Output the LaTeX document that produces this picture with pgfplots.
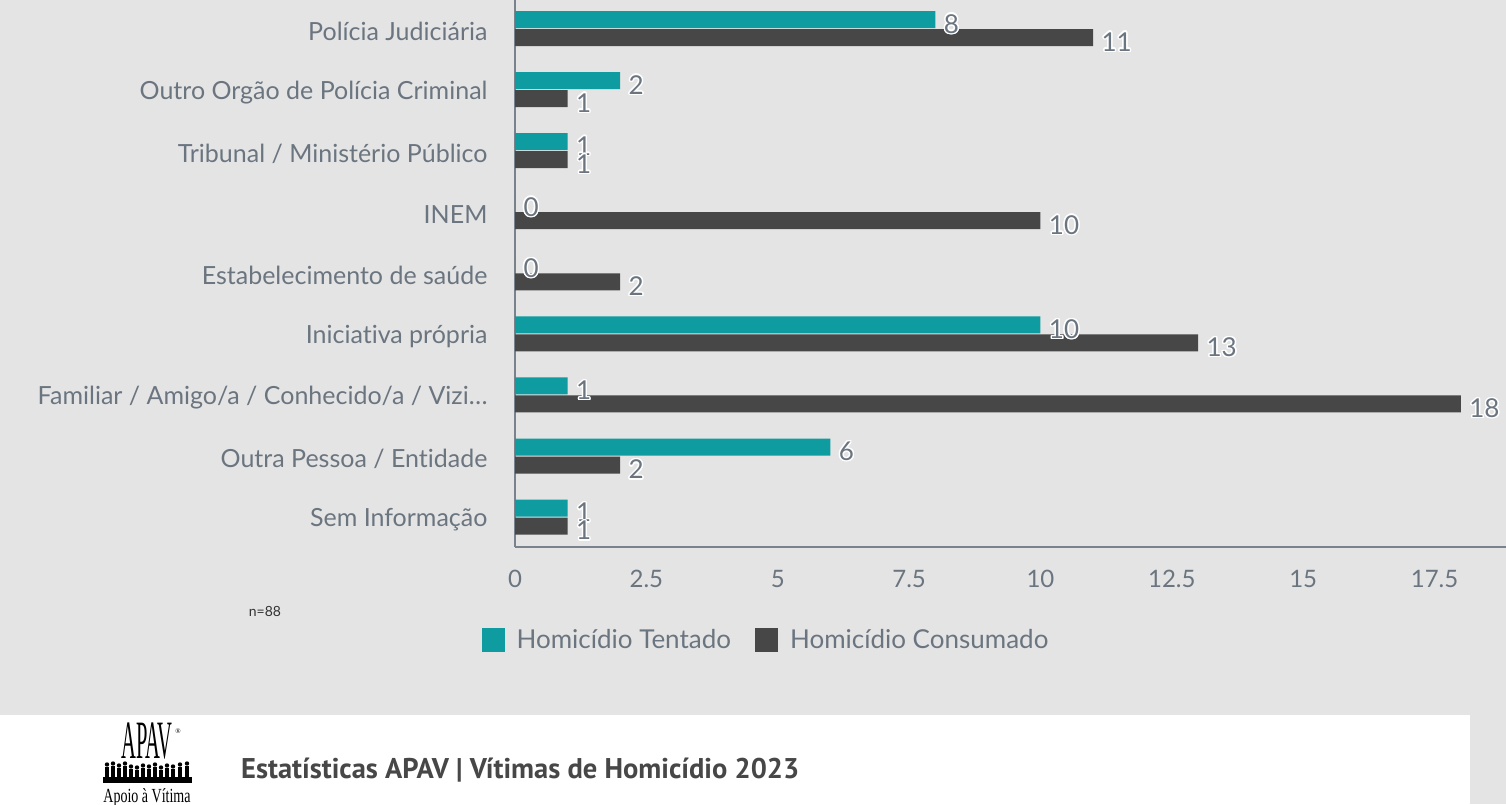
\documentclass[border=0pt]{standalone}
\usepackage{pgfplots}
\pgfplotsset{compat=1.18}
\usepackage{pgfplotstable}
\usepackage{fontspec}
\setmainfont{Lato}[Ligatures=NoCommon]
\newfontfamily\titlefont{PT Sans}
\newfontfamily\logofont{Liberation Serif}
\usepackage[copies]{contour}
\contournumber{16}
\contourlength{1.4pt}
\definecolor{bg}{HTML}{E4E4E4}
\definecolor{tealbar}{HTML}{0E9CA0}
\definecolor{darkbar}{HTML}{474747}
\definecolor{txt}{HTML}{6B7580}
\definecolor{axisc}{HTML}{7A838C}
\pgfplotstableread{
y tent cons
8 8 11
7 2 1
6 1 1
5 0 10
4 0 2
3 10 13
2 1 18
1 6 2
0 1 1
}\datatable
\begin{document}
\begin{tikzpicture}[x=1pt,y=1pt]
\path[use as bounding box] (0,0) rectangle (1506,804);
\fill[bg] (0,0) rectangle (1506,804);
\fill[white] (0,0) rectangle (1470,89);
\begin{axis}[
  at={(515pt,257pt)}, anchor=south west,
  scale only axis, width=991pt, height=547pt,
  xbar, bar width=17pt,
  xmin=0, xmax=18.86, ymin=-0.49, ymax=8.467,
  axis x line*=bottom, axis y line*=left,
  axis line style={axisc, line width=2pt, -},
  xtick={0,2.5,5,7.5,10,12.5,15,17.5},
  ytick={0,1,2,3,4,5,6,7,8},
  yticklabels={Sem Informação,Outra Pessoa / Entidade,Familiar / Amigo/a / Conhecido/a / Vizi…,Iniciativa própria,Estabelecimento de saúde,INEM,Tribunal / Ministério Público,Outro Orgão de Polícia Criminal,Polícia Judiciária},
  major tick length=0pt,
  /pgf/number format/assume math mode=true,
  tick label style={font=\fontsize{24}{28}\selectfont, text=txt},
  yticklabel style={font=\fontsize{25}{30}\selectfont, xshift=-24pt, yshift=-3pt},
  xticklabel style={yshift=-20pt},
  clip=false,
  nodes near coords={\contour{white}{\pgfmathprintnumber{\pgfplotspointmeta}}},
  nodes near coords style={font=\fontsize{26}{30}\selectfont, text=txt, anchor=west, xshift=5pt, yshift=-5pt},
  legend style={at={(axis description cs:0.2533,-0.170)}, anchor=center, draw=none, fill=none,
    legend columns=2, font=\fontsize{26}{30}\selectfont, text=txt,
    /tikz/every odd column/.append style={column sep=10pt},
    /tikz/every even column/.append style={column sep=22pt}},
  legend image code/.code={\fill[#1] (0pt,-12pt) rectangle (23pt,12pt);},
]
\addplot[fill=tealbar, draw=none, bar shift=9pt] table[x=tent,y=y]{\datatable};
\addplot[fill=darkbar, draw=none, bar shift=-9pt] table[x=cons,y=y]{\datatable};
\legend{Homicídio Tentado, Homicídio Consumado}
\end{axis}
\node[font=\fontsize{14}{16}\selectfont, text=black!80] at (265,193) {n=88};
% footer title
\node[anchor=base west, inner sep=0, font=\titlefont\bfseries\fontsize{28.5}{32}\selectfont, text=darkbar] at (241,26) {Estatísticas APAV | Vítimas de Homicídio 2023};
% logo
\node[anchor=base, inner sep=0, font=\logofont\fontsize{54}{58}\selectfont] at (147,46) {\scalebox{0.38}[1]{APAV}};
\node[inner sep=0, font=\logofont\fontsize{7}{8}\selectfont] at (178,73) {®};
\fill[black] (103,21) rectangle (192,27);
\foreach \xx/\hh in {107/14,113/15,119/13,125/15,131/12,137/11,143/13,149/12,155/14,161/11,167/13,173/12,180/14,187/15}{
  \fill[black] (\xx-2.2,27) rectangle (\xx+2.2,27+\hh-4);
  \fill[black] (\xx,27+\hh-1.5) circle (2.2);
}
\node[anchor=base, inner sep=0, font=\logofont\fontsize{20}{22}\selectfont] at (147,2) {\scalebox{0.7}[1]{Apoio à Vítima}};
\end{tikzpicture}
\end{document}
